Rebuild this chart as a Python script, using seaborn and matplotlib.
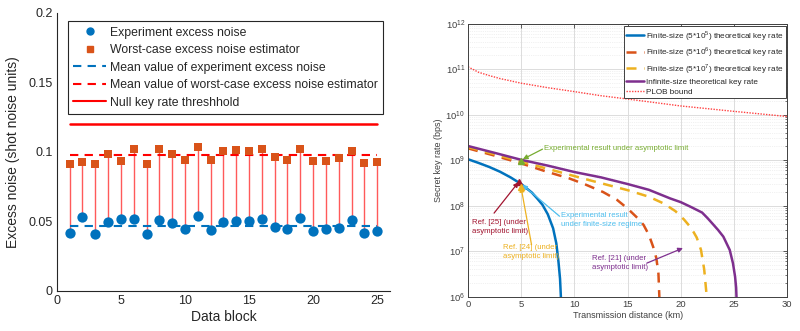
import matplotlib
matplotlib.use("Agg")
import matplotlib.pyplot as plt
from matplotlib.lines import Line2D
import numpy as np
import pandas as pd
import seaborn as sns

# ---------------- data: left panel ----------------
blocks = list(range(1, 26))
experiment_noise = [0.0414, 0.0529, 0.0412, 0.0493, 0.0517, 0.0519, 0.0410, 0.0510, 0.0486, 0.0447,
                    0.0540, 0.0440, 0.0498, 0.0505, 0.0505, 0.0520, 0.0460, 0.0443, 0.0524, 0.0430,
                    0.0443, 0.0450, 0.0507, 0.0420, 0.0430]
worst_case_noise = [0.0916, 0.0926, 0.0916, 0.0986, 0.0938, 0.1020, 0.0914, 0.1019, 0.0988, 0.0943,
                    0.1036, 0.0943, 0.1005, 0.1014, 0.1007, 0.1020, 0.0964, 0.0943, 0.1020, 0.0938,
                    0.0935, 0.0955, 0.1005, 0.0923, 0.0928]
mean_experiment = 0.047
mean_worst_case = 0.098
null_threshold = 0.12
left_xticks = [0, 5, 10, 15, 20, 25]
left_yticks = [0, 0.05, 0.1, 0.15, 0.2]
left_yticklabels = ["0", "0.05", "0.1", "0.15", "0.2"]

# ---------------- data: right panel ----------------
d_5e5 = [0, 1, 2, 3, 4, 5, 6, 6.5, 7, 7.5, 8, 8.3, 8.5, 8.65, 8.75]
r_5e5 = [1.05e9, 8.7e8, 7.1e8, 5.6e8, 4.2e8, 3.0e8, 1.95e8, 1.45e8, 1.05e8, 6.5e7, 3.2e7,
         1.5e7, 6e6, 2.5e6, 8e5]
d_5e6 = [0, 2.5, 5, 7.5, 9.5, 11, 12.7, 14, 15, 16, 16.5, 17, 17.4, 17.7, 17.9, 18.0]
r_5e6 = [1.82e9, 1.26e9, 8.5e8, 5.5e8, 4.0e8, 2.95e8, 2.0e8, 1.35e8, 8.7e7, 5.2e7, 3.8e7,
         2.3e7, 1.26e7, 7.1e6, 3.2e6, 8e5]
d_5e7 = [0, 2.5, 5, 8, 11.5, 15, 17, 18.4, 19.5, 20.3, 21, 21.5, 21.9, 22.2, 22.4, 22.45]
r_5e7 = [1.95e9, 1.35e9, 9.3e8, 6.0e8, 3.6e8, 2.2e8, 1.58e8, 1.12e8, 7.6e7, 5.0e7, 3.2e7,
         2.0e7, 1.07e7, 4.0e6, 1.26e6, 8e5]
d_inf = [0, 2.5, 5, 7.5, 10, 12.5, 15, 17, 19, 20, 21, 22, 22.5, 23, 23.5, 24, 24.6, 24.9,
         25.1, 25.2, 25.25]
r_inf = [2.05e9, 1.45e9, 1.02e9, 7.6e8, 5.5e8, 4.2e8, 3.0e8, 2.24e8, 1.45e8, 1.2e8, 9.3e7,
         7.1e7, 5.4e7, 4.0e7, 2.95e7, 2.1e7, 1.07e7, 5.5e6, 2.8e6, 1.6e6, 8e5]
d_plob = [0, 1, 2, 3, 5, 7.5, 10, 12.5, 15, 20, 25, 30]
r_plob = [1.12e11, 8.5e10, 7.2e10, 6.2e10, 4.9e10, 3.9e10, 3.2e10, 2.6e10, 2.2e10, 1.55e10,
          1.18e10, 9.1e9]

legend_right = [r"Finite-size (5*10$^5$) theoretical key rate",
                r"Finite-size (5*10$^6$) theoretical key rate",
                r"Finite-size (5*10$^7$) theoretical key rate",
                "Infinite-size theoretical key rate",
                "PLOB bound"]

# experimental / reference points
pt_asym = (5.0, 9.8e8)
pt_ref25 = (4.8, 3.3e8)
pt_ref24 = (5.0, 2.6e8)

# ---------------- style ----------------
sns.set_theme(style="white")
plt.rcParams["font.family"] = ["Liberation Sans", "DejaVu Sans"]
plt.rcParams["mathtext.fontset"] = "custom"
plt.rcParams["mathtext.rm"] = "Liberation Sans"
plt.rcParams["xtick.direction"] = "in"
plt.rcParams["ytick.direction"] = "in"

AX_COL = "#262626"
BLUE = "#0072BD"
ORANGE = "#D95319"
YELLOW = "#EDB120"
PURPLE = "#7E2F8E"
GREEN = "#77AC30"
CYAN = "#4DBEEE"
MAROON = "#A2142F"
RED = "#FF0000"

fig = plt.figure(figsize=(8, 3.31), dpi=100)

# ================= left panel =================
ax1 = fig.add_axes([0.071, 0.121, 0.4165, 0.84])
dfl = pd.DataFrame({"block": blocks, "exp": experiment_noise, "worst": worst_case_noise})

ax1.vlines(dfl["block"], dfl["exp"], dfl["worst"], color="#FF5A5A", lw=1.0, zorder=1)
sns.lineplot(x=[1, 25], y=[null_threshold, null_threshold], color=RED, lw=1.8, ax=ax1, zorder=2)
sns.lineplot(x=[1, 25], y=[mean_worst_case, mean_worst_case], color=RED, lw=1.5,
             linestyle=(0, (4, 3)), ax=ax1, zorder=2)
sns.lineplot(x=[1, 25], y=[mean_experiment, mean_experiment], color=BLUE, lw=1.5,
             linestyle=(0, (4, 3)), ax=ax1, zorder=2)
sns.scatterplot(data=dfl, x="block", y="worst", marker="s", s=38, color=ORANGE,
                edgecolor=ORANGE, linewidth=0, ax=ax1, zorder=3)
sns.scatterplot(data=dfl, x="block", y="exp", marker="o", s=55, color=BLUE,
                edgecolor=BLUE, linewidth=0, ax=ax1, zorder=3)

ax1.set_xlim(0, 26)
ax1.set_ylim(0, 0.2)
ax1.set_xticks(left_xticks)
ax1.set_yticks(left_yticks)
ax1.set_yticklabels(left_yticklabels)
ax1.set_xlabel("Data block", fontsize=10, color=AX_COL, labelpad=2)
ax1.set_ylabel("Excess noise (shot noise units)", fontsize=10, color=AX_COL, labelpad=6)
ax1.tick_params(axis="both", labelsize=9, colors=AX_COL, length=3, width=0.8, pad=3)
for side in ["top", "right"]:
    ax1.spines[side].set_visible(False)
for side in ["left", "bottom"]:
    ax1.spines[side].set_color(AX_COL)
    ax1.spines[side].set_linewidth(0.8)

h_left = [
    Line2D([], [], marker="o", color=BLUE, ls="none", markersize=5),
    Line2D([], [], marker="s", color=ORANGE, ls="none", markersize=5),
    Line2D([], [], color=BLUE, ls=(0, (4, 3)), lw=1.5),
    Line2D([], [], color=RED, ls=(0, (4, 3)), lw=1.5),
    Line2D([], [], color=RED, lw=1.5),
]
l_left = ["Experiment excess noise", "Worst-case excess noise estimator",
          "Mean value of experiment excess noise",
          "Mean value of worst-case excess noise estimator",
          "Null key rate threshhold"]
leg1 = ax1.legend(h_left, l_left, loc="upper right", bbox_to_anchor=(0.98, 0.97),
                  fontsize=8.8, frameon=True, fancybox=False, edgecolor=AX_COL,
                  framealpha=1, handlelength=2.7, labelspacing=0.45, borderpad=0.45,
                  handletextpad=0.3, borderaxespad=0)
leg1.get_frame().set_linewidth(0.8)

# ================= right panel =================
ax2 = fig.add_axes([0.585, 0.103, 0.399, 0.826])
ax2.set_yscale("log")

sns.lineplot(x=d_5e5, y=r_5e5, color=BLUE, lw=1.8, sort=False, estimator=None, ax=ax2)
sns.lineplot(x=d_5e6, y=r_5e6, color=ORANGE, lw=1.8, linestyle=(0, (4, 3)), sort=False,
             estimator=None, ax=ax2)
sns.lineplot(x=d_5e7, y=r_5e7, color=YELLOW, lw=1.8, linestyle=(0, (4, 3)), sort=False,
             estimator=None, ax=ax2)
sns.lineplot(x=d_inf, y=r_inf, color=PURPLE, lw=1.8, sort=False, estimator=None, ax=ax2)
sns.lineplot(x=d_plob, y=r_plob, color="#FF4040", lw=1.0, linestyle=(0, (1, 1)), sort=False,
             estimator=None, ax=ax2)

ax2.set_xlim(0, 30)
ax2.set_ylim(1e6, 1e12)
ax2.set_xticks([0, 5, 10, 15, 20, 25, 30])
ax2.set_yticks([1e6, 1e7, 1e8, 1e9, 1e10, 1e11, 1e12])
ax2.grid(True, which="major", color="#DCDCDC", lw=0.7)
ax2.grid(True, which="minor", axis="y", color="#E4E4E4", lw=0.5, ls=":")
ax2.tick_params(axis="both", which="major", labelsize=6.8, colors="#404040", length=3,
                width=0.6, top=True, right=True, pad=2)
ax2.tick_params(axis="y", which="minor", length=1.5, width=0.5, right=True, colors="#404040")
ax2.set_xlabel("Transmission distance (km)", fontsize=6.5, color="#404040", labelpad=2)
ax2.set_ylabel("Secret key rate (bps)", fontsize=6.5, color="#404040", labelpad=2)
for side in ax2.spines.values():
    side.set_color("#404040")
    side.set_linewidth(0.7)

h_right = [
    Line2D([], [], color=BLUE, lw=1.8),
    Line2D([], [], color=ORANGE, lw=1.8, ls=(0, (4, 3))),
    Line2D([], [], color=YELLOW, lw=1.8, ls=(0, (4, 3))),
    Line2D([], [], color=PURPLE, lw=1.8),
    Line2D([], [], color="#FF4040", lw=1.0, ls=(0, (1, 1))),
]
leg2 = ax2.legend(h_right, legend_right, loc="upper right", bbox_to_anchor=(0.995, 0.99),
                  fontsize=5.9, frameon=True, fancybox=False, edgecolor="#404040",
                  framealpha=1, handlelength=2.2, labelspacing=0.3, borderpad=0.3,
                  handletextpad=0.2, borderaxespad=0)
leg2.get_frame().set_linewidth(0.7)

# markers
ax2.plot(*pt_asym, marker="^", color=GREEN, ms=5, zorder=5)
ax2.plot(*pt_ref25, marker="^", color=MAROON, ms=5, zorder=5)
ax2.plot(*pt_ref24, marker="^", color=YELLOW, ms=4, zorder=5)

arrow = dict(arrowstyle="-|>", lw=0.9, mutation_scale=7, shrinkA=0, shrinkB=0)
TXT = 5.6
# arrows (tail -> head)
ax2.annotate("", xy=(5.15, 1.05e9), xytext=(7.0, 1.75e9), arrowprops=dict(arrow, color=GREEN))
ax2.annotate("", xy=(5.1, 2.9e8), xytext=(8.6, 5.9e7), arrowprops=dict(arrow, color=CYAN))
ax2.annotate("", xy=(4.75, 3.3e8), xytext=(2.45, 6.9e7), arrowprops=dict(arrow, color=MAROON))
ax2.annotate("", xy=(4.98, 2.6e8), xytext=(5.97, 1.4e7), arrowprops=dict(arrow, color=YELLOW))
ax2.annotate("", xy=(20.2, 1.18e7), xytext=(16.8, 5.5e6), arrowprops=dict(arrow, color=PURPLE))
# texts
ax2.text(7.1, 1.85e9, "Experimental result under asymptotic limit", fontsize=TXT,
         color=GREEN, va="center", ha="left")
ax2.text(8.7, 4.8e7, "Experimental result\nunder finite-size regime", fontsize=TXT,
         color=CYAN, va="center", ha="left", linespacing=1.4)
ax2.text(0.4, 3.4e7, "Ref. [25] (under\nasymptotic limit)", fontsize=TXT,
         color=MAROON, va="center", ha="left", linespacing=1.4)
ax2.text(3.3, 9.8e6, "Ref. [24] (under\nasymptotic limit)", fontsize=TXT,
         color=YELLOW, va="center", ha="left", linespacing=1.4)
ax2.text(11.7, 5.6e6, "Ref. [21] (under\nasymptotic limit)", fontsize=TXT,
         color=PURPLE, va="center", ha="left", linespacing=1.4)

fig.savefig("out.png", dpi=100)
